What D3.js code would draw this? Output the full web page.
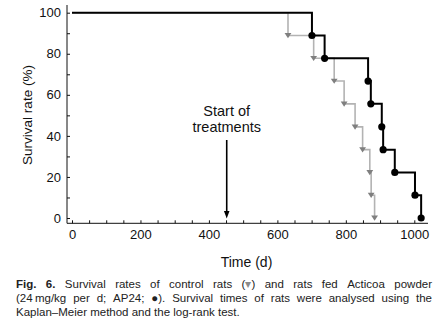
<!DOCTYPE html>
<html>
<head>
<meta charset="utf-8">
<script src="https://cdn.jsdelivr.net/npm/d3@7"></script>
<style>
  body { margin: 0; background: #fff; }
  svg { display: block; font-family: "Liberation Sans", Arial, sans-serif; }
</style>
</head>
<body>
<div id="container"></div>
<script>
// survival data (Kaplan-Meier, 9 rats per group)
const survivalLevels = [88.9, 77.8, 66.7, 55.6, 44.4, 33.3, 22.2, 11.1, 0];
const ap24Days = [701, 738, 865, 873, 905, 909, 943, 1002, 1020];
const controlDays = [631, 706, 766, 795, 827, 849, 870, 874, 884];
const treatmentStart = 452;

const xTicks = d3.range(0, 1001, 50);
const xLabels = [0, 200, 400, 600, 800, 1000];
const yTicks = d3.range(0, 101, 10);
const yLabels = [0, 20, 40, 60, 80, 100];

const captionLine1 = [[["Fig.", "b"]], [["6.", "b"]], "Survival", "rates", "of", "control", "rats",
  [["(", ""], ["\u25BE", "g"], [")", ""]], "and", "rats", "fed", "Acticoa", "powder"];
const captionLine2 = ["(24\u2009mg/kg", "per", "d;", "AP24;", [["\u25CF", ""], [").", ""]], "Survival", "times",
  "of", "rats", "were", "analysed", "using", "the"];
const captionLine3 = "Kaplan\u2013Meier method and the log-rank test.";

function draw() {
    const width = 442;
    const height = 328;

    const svg = d3.select('#container')
        .append('svg')
        .attr('width', width)
        .attr('height', height);

    const x = d3.scaleLinear().domain([0, 1000]).range([72, 414.3]);
    const y = d3.scaleLinear().domain([0, 100]).range([218, 12.7]);

    const axisY = 223.3;
    const axisX = 67;

    // x axis
    const gx = svg.append('g')
        .attr('transform', `translate(0,${axisY})`)
        .call(d3.axisBottom(x)
            .tickValues(xTicks)
            .tickSize(-3)
            .tickPadding(6)
            .tickFormat(d => xLabels.includes(d) ? d : ''));
    gx.select('.domain').remove();
    gx.selectAll('text').style('font-size', '13px').attr('fill', '#111');
    gx.selectAll('line').attr('stroke', '#111');

    // y axis
    const gy = svg.append('g')
        .attr('transform', `translate(${axisX},0)`)
        .call(d3.axisLeft(y)
            .tickValues(yTicks)
            .tickSize(-3)
            .tickPadding(6)
            .tickFormat(d => yLabels.includes(d) ? d : ''));
    gy.select('.domain').remove();
    gy.selectAll('text').style('font-size', '13px').attr('fill', '#111');
    gy.selectAll('line').attr('stroke', '#111');

    svg.append('line')
        .attr('x1', axisX).attr('x2', 428)
        .attr('y1', axisY).attr('y2', axisY)
        .attr('stroke', '#111');
    svg.append('line')
        .attr('x1', axisX).attr('x2', axisX)
        .attr('y1', 5).attr('y2', axisY)
        .attr('stroke', '#111');

    // axis titles
    svg.append('text')
        .text('Time (d)')
        .attr('x', 246.5)
        .attr('y', 266.5)
        .attr('text-anchor', 'middle')
        .style('font-size', '14px')
        .attr('fill', '#111');

    svg.append('text')
        .text('Survival rate (%)')
        .attr('transform', 'translate(31.5,115) rotate(-90)')
        .attr('text-anchor', 'middle')
        .style('font-size', '13.5px')
        .attr('fill', '#111');

    // step curves
    const stepLine = d3.line()
        .x(d => x(d.t))
        .y(d => y(d.s))
        .curve(d3.curveStepAfter);

    const control = [{t: 0, s: 100}].concat(controlDays.map((t, i) => ({t: t, s: survivalLevels[i]})));
    const ap24 = [{t: 0, s: 100}].concat(ap24Days.map((t, i) => ({t: t, s: survivalLevels[i]})));

    svg.append('path')
        .datum(control)
        .attr('d', stepLine)
        .attr('fill', 'none')
        .attr('stroke', '#b3b3b3')
        .attr('stroke-width', 1.6);

    svg.selectAll('.tri')
        .data(control.slice(1))
        .enter()
        .append('path')
        .attr('class', 'tri')
        .attr('d', 'M-3.4,-2.4L3.4,-2.4L0,2.8Z')
        .attr('transform', d => `translate(${x(d.t)},${y(d.s)})`)
        .attr('fill', '#7f7f7f');

    svg.append('path')
        .datum(ap24)
        .attr('d', stepLine)
        .attr('fill', 'none')
        .attr('stroke', '#000')
        .attr('stroke-width', 2);

    svg.selectAll('.dot')
        .data(ap24.slice(1))
        .enter()
        .append('circle')
        .attr('class', 'dot')
        .attr('cx', d => x(d.t))
        .attr('cy', d => y(d.s))
        .attr('r', 3.6)
        .attr('fill', '#000');

    // start of treatments annotation
    const ax = x(treatmentStart);
    svg.append('line')
        .attr('x1', ax).attr('x2', ax)
        .attr('y1', 140).attr('y2', 212)
        .attr('stroke', '#000')
        .attr('stroke-width', 1.6);
    svg.append('path')
        .attr('d', `M${ax - 2.8},211L${ax + 2.8},211L${ax},218.5Z`)
        .attr('fill', '#000');

    svg.append('text')
        .text('Start of')
        .attr('x', ax)
        .attr('y', 116)
        .attr('text-anchor', 'middle')
        .style('font-size', '14.5px')
        .attr('fill', '#111');
    svg.append('text')
        .text('treatments')
        .attr('x', ax)
        .attr('y', 131.5)
        .attr('text-anchor', 'middle')
        .style('font-size', '14.5px')
        .attr('fill', '#111');

    // caption, justified lines
    const capLeft = 16;
    const capRight = 432;
    const capSize = '11.5px';

    function justify(words, baseline) {
        const nodes = words.map(w => {
            const parts = typeof w === 'string' ? [[w, '']] : w;
            const t = svg.append('text')
                .attr('y', baseline)
                .style('font-size', capSize)
                .attr('fill', '#222');
            parts.forEach(p => {
                t.append('tspan')
                    .text(p[0])
                    .attr('font-weight', p[1] === 'b' ? 'bold' : null)
                    .attr('fill', p[1] === 'g' ? '#8a8a8a' : null);
            });
            return t;
        });
        const widths = nodes.map(n => n.node().getComputedTextLength());
        const total = d3.sum(widths);
        const gap = (capRight - capLeft - total) / (nodes.length - 1);
        let pos = capLeft;
        nodes.forEach((n, i) => {
            n.attr('x', pos);
            pos += widths[i] + gap;
        });
    }

    justify(captionLine1, 288);
    justify(captionLine2, 302);

    svg.append('text')
        .text(captionLine3)
        .attr('x', capLeft)
        .attr('y', 316)
        .style('font-size', capSize)
        .attr('fill', '#222');
}

draw();
</script>
</body>
</html>
